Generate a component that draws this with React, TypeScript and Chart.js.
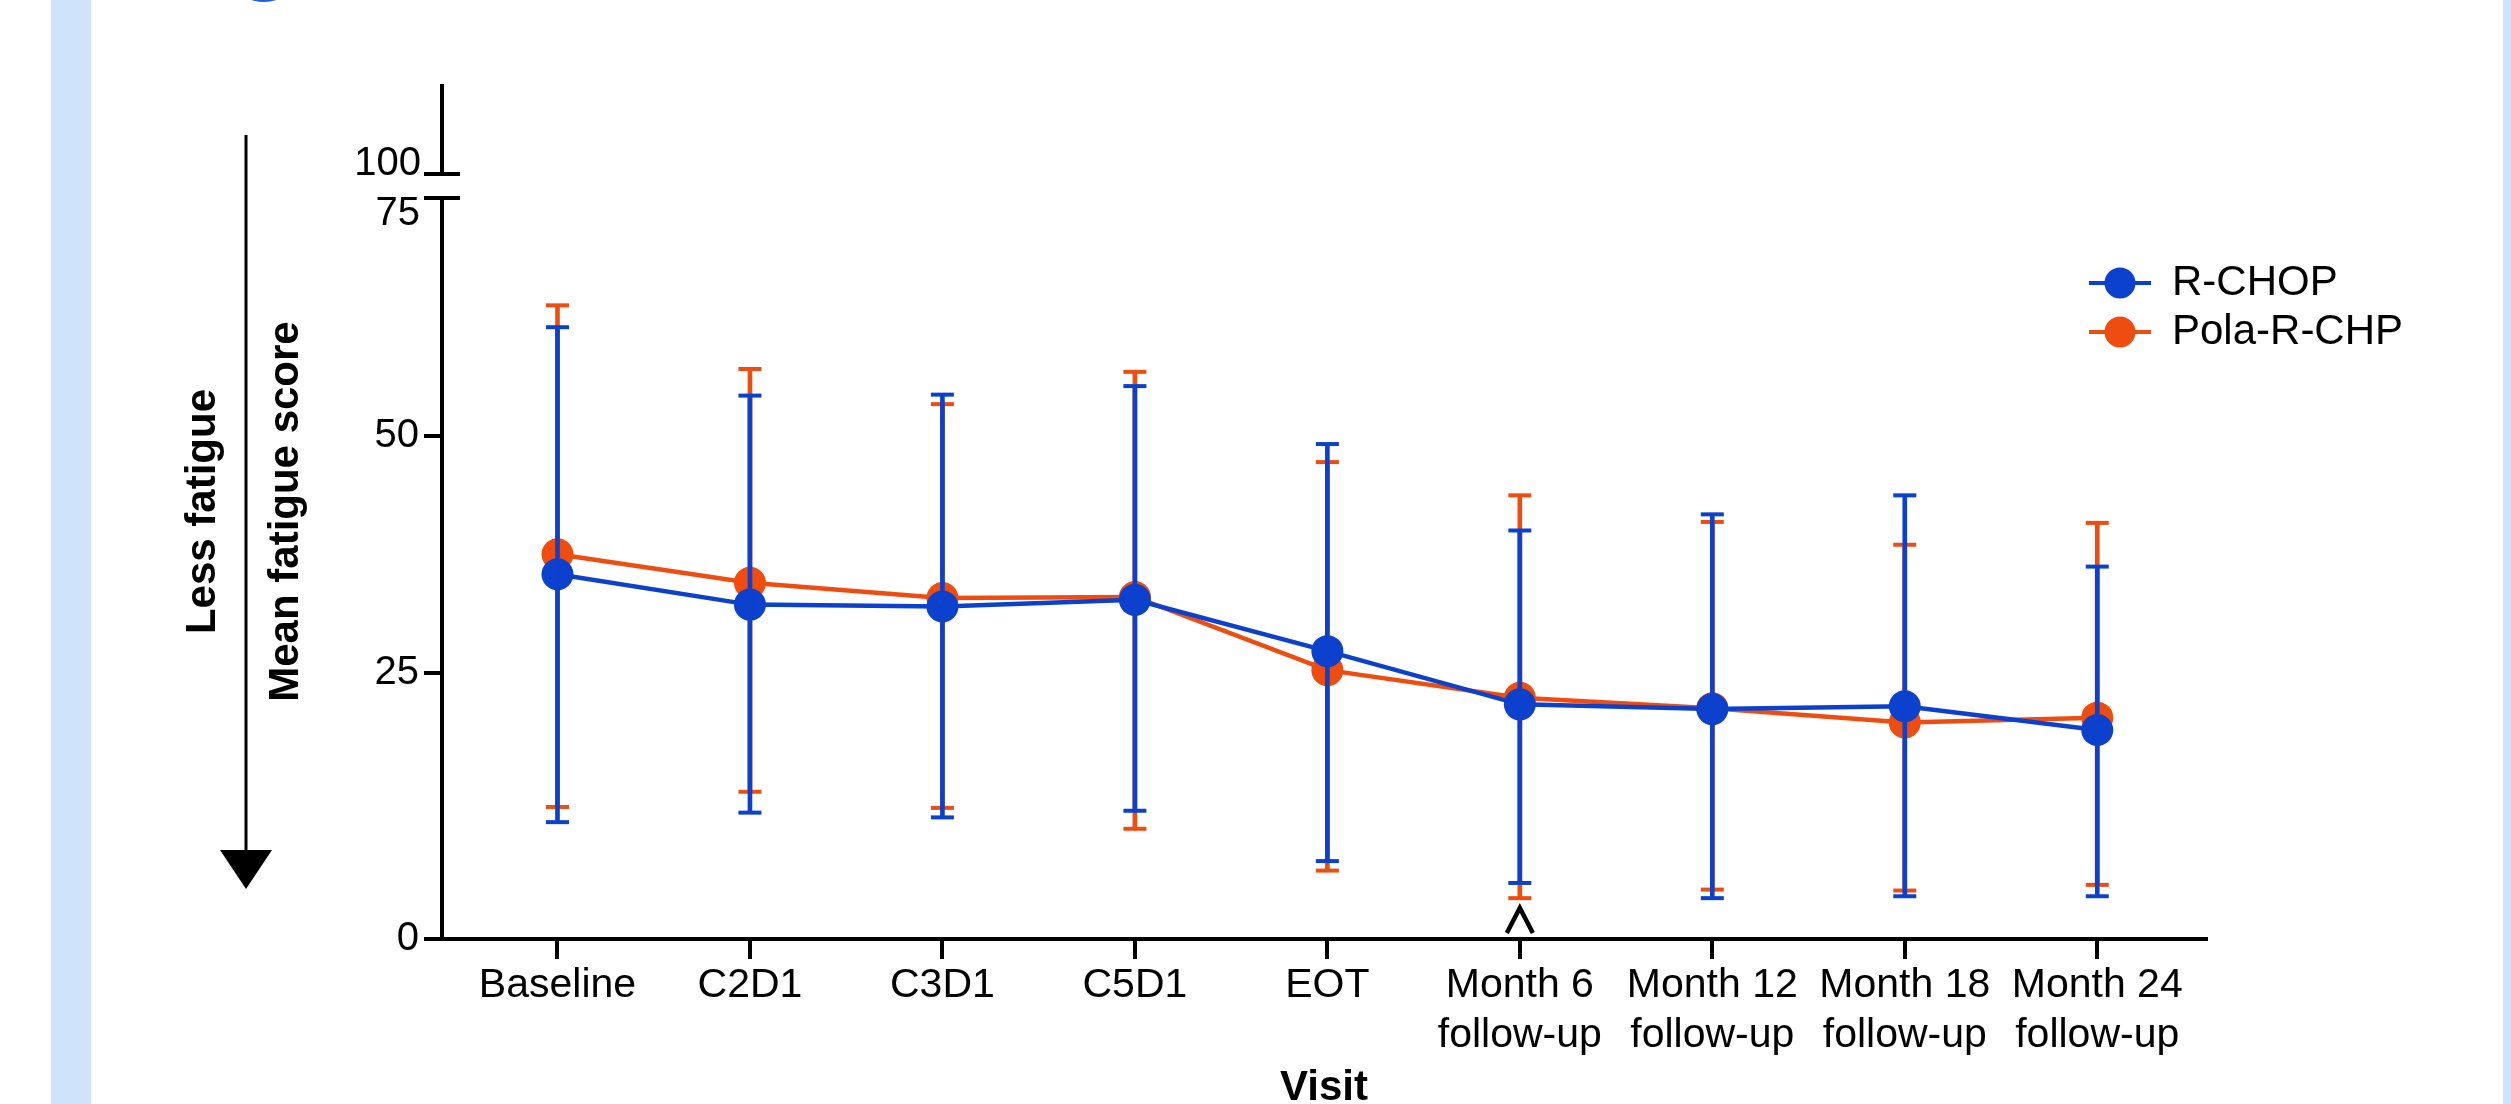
import React, { useEffect, useRef } from 'react';
import { Chart, registerables } from 'chart.js';

Chart.register(...registerables);

// ---------------- data ----------------
const VISIT_LABELS: (string | string[])[] = [
  'Baseline',
  'C2D1',
  'C3D1',
  'C5D1',
  'EOT',
  ['Month 6', 'follow-up'],
  ['Month 12', 'follow-up'],
  ['Month 18', 'follow-up'],
  ['Month 24', 'follow-up'],
];

const SERIES_NAMES = ['R-CHOP', 'Pola-R-CHP'];

const RCHOP_MEAN = [35.4, 32.2, 32.0, 32.7, 27.3, 21.7, 21.2, 21.5, 19.0];
const RCHOP_UPPER = [61.4, 54.2, 54.3, 55.2, 49.1, 40.0, 41.7, 43.7, 36.2];
const RCHOP_LOWER = [9.3, 10.3, 9.8, 10.5, 5.2, 2.9, 1.3, 1.5, 1.5];

const POLA_MEAN = [37.5, 34.5, 32.9, 33.0, 25.3, 22.4, 21.3, 19.8, 20.3];
const POLA_UPPER = [63.7, 57.0, 53.3, 56.7, 47.2, 43.7, 40.9, 38.5, 40.8];
const POLA_LOWER = [10.9, 12.5, 10.8, 8.6, 4.2, 1.3, 2.2, 2.1, 2.7];

// y axis: the baseline of the axis sits slightly below zero in the reference and is labelled 0
const Y_AXIS_FLOOR = -3;
const Y_AXIS_CEIL = 87;
const Y_TICK_VALUES = [Y_AXIS_FLOOR, 25, 50, 75];
const Y_TICK_LABELS = ['0', '25', '50', '75'];
const BREAK_LOW_LABEL = '75';
const BREAK_HIGH_LABEL = '100';
const BREAK_LOW_VALUE = 75;

const CARET_INDEX = 5; // "^" marker under Month 6 follow-up

const Y_TITLE = ['Less fatigue', 'Mean fatigue score'];
const X_TITLE = 'Visit';

// ---------------- style ----------------
const W = 2511;
const H = 1104;
const BLUE = '#0b41cd';
const ORANGE = '#ef4d0f';
const FONT = '"Liberation Sans", Arial, Helvetica, sans-serif';

function pts(values: number[]) {
  return values.map((y, i) => ({ x: i, y }));
}
function bars(lo: number[], hi: number[]) {
  return lo.map((l, i) => ({ x: i, y: [l, hi[i]] }));
}

function legendGlyph(color: string) {
  const c = document.createElement('canvas');
  c.width = 62;
  c.height = 34;
  const g = c.getContext('2d')!;
  g.strokeStyle = color;
  g.lineWidth = 4;
  g.beginPath();
  g.moveTo(0, 17);
  g.lineTo(62, 17);
  g.stroke();
  g.fillStyle = color;
  g.beginPath();
  g.arc(31, 17, 15.5, 0, Math.PI * 2);
  g.fill();
  return c;
}

const decorPlugin = {
  id: 'decor',
  beforeDraw(chart: any) {
    const lg = chart.legend;
    if (lg) {
      lg.left = 2082;
      lg.top = 255;
      lg.width = 420;
      lg.height = 160;
      lg.right = lg.left + lg.width;
      lg.bottom = lg.top + lg.height;
    }
  },
  afterDraw(chart: any) {
    const { ctx, chartArea } = chart;
    const ys = chart.scales.y;
    const xs = chart.scales.x;
    const ax = chartArea.left;
    const y75 = ys.getPixelForValue(BREAK_LOW_VALUE);
    const yTop = y75 - 24;
    ctx.save();
    ctx.strokeStyle = '#000';
    ctx.lineWidth = 4;
    ctx.lineCap = 'butt';
    ctx.beginPath();
    ctx.moveTo(ax, y75 - 2);
    ctx.lineTo(ax, chartArea.bottom + 2);
    ctx.moveTo(ax, chartArea.top);
    ctx.lineTo(ax, yTop + 2);
    ctx.moveTo(ax - 18, y75);
    ctx.lineTo(ax + 18, y75);
    ctx.moveTo(ax - 18, yTop);
    ctx.lineTo(ax + 18, yTop);
    ctx.stroke();

    ctx.fillStyle = '#000';
    ctx.font = `40px ${FONT}`;
    ctx.textAlign = 'right';
    ctx.textBaseline = 'alphabetic';
    ctx.fillText(BREAK_HIGH_LABEL, ax - 21, yTop + 1);
    ctx.fillText(BREAK_LOW_LABEL, ax - 22, y75 + 27);

    // caret under Month 6
    const cx = xs.getPixelForValue(CARET_INDEX);
    const cb = chartArea.bottom;
    ctx.lineWidth = 4.5;
    ctx.lineJoin = 'miter';
    ctx.beginPath();
    ctx.moveTo(cx - 13, cb - 6);
    ctx.lineTo(cx, cb - 31);
    ctx.lineTo(cx + 13, cb - 6);
    ctx.stroke();

    // "less fatigue" arrow
    ctx.lineWidth = 3;
    ctx.beginPath();
    ctx.moveTo(246, 135);
    ctx.lineTo(246, 852);
    ctx.stroke();
    ctx.beginPath();
    ctx.moveTo(220, 850);
    ctx.lineTo(272, 850);
    ctx.lineTo(246, 889);
    ctx.closePath();
    ctx.fill();
    ctx.restore();
  },
};

export default function App() {
  const ref = useRef<HTMLCanvasElement>(null);

  useEffect(() => {
    const canvas = ref.current;
    if (!canvas) return;
    const glyphs = [legendGlyph(BLUE), legendGlyph(ORANGE)];

    const chart = new Chart(canvas, {
      type: 'line',
      data: {
        datasets: [
          {
            type: 'bar',
            label: 'R-CHOP SD',
            data: bars(RCHOP_LOWER, RCHOP_UPPER) as any,
            backgroundColor: BLUE,
            borderWidth: 0,
            barThickness: 4,
            grouped: false,
            order: 1,
          } as any,
          {
            type: 'line',
            label: 'R-CHOP caps',
            data: [...pts(RCHOP_UPPER), ...pts(RCHOP_LOWER)],
            showLine: false,
            pointStyle: 'line',
            pointRadius: 11.5,
            pointBorderWidth: 4,
            pointBorderColor: BLUE,
            pointBackgroundColor: BLUE,
            order: 2,
          },
          {
            type: 'line',
            label: SERIES_NAMES[0],
            data: pts(RCHOP_MEAN),
            borderColor: BLUE,
            borderWidth: 4.5,
            backgroundColor: BLUE,
            pointRadius: 16,
            pointBorderWidth: 0,
            pointBackgroundColor: BLUE,
            tension: 0,
            order: 3,
          },
          {
            type: 'bar',
            label: 'Pola SD',
            data: bars(POLA_LOWER, POLA_UPPER) as any,
            backgroundColor: ORANGE,
            borderWidth: 0,
            barThickness: 4,
            grouped: false,
            order: 4,
          } as any,
          {
            type: 'line',
            label: 'Pola caps',
            data: [...pts(POLA_UPPER), ...pts(POLA_LOWER)],
            showLine: false,
            pointStyle: 'line',
            pointRadius: 11.5,
            pointBorderWidth: 4,
            pointBorderColor: ORANGE,
            pointBackgroundColor: ORANGE,
            order: 5,
          },
          {
            type: 'line',
            label: SERIES_NAMES[1],
            data: pts(POLA_MEAN),
            borderColor: ORANGE,
            borderWidth: 4.5,
            backgroundColor: ORANGE,
            pointRadius: 16,
            pointBorderWidth: 0,
            pointBackgroundColor: ORANGE,
            tension: 0,
            order: 6,
          },
        ],
      },
      options: {
        animation: false,
        responsive: false,
        devicePixelRatio: 1,
        events: [],
        layout: { padding: { left: 0, top: 84, right: 305, bottom: 0 } },
        plugins: {
          tooltip: { enabled: false },
          title: { display: false },
          legend: {
            display: true,
            position: 'chartArea' as any,
            align: 'start',
            labels: {
              usePointStyle: true,
              pointStyleWidth: 62,
              boxHeight: 42,
              padding: 7,
              color: '#000',
              font: { family: FONT, size: 42 },
              generateLabels: () =>
                SERIES_NAMES.map((name, i) => ({
                  text: name,
                  pointStyle: glyphs[i] as any,
                  fillStyle: i === 0 ? BLUE : ORANGE,
                  strokeStyle: i === 0 ? BLUE : ORANGE,
                  lineWidth: 0,
                  hidden: false,
                  datasetIndex: i === 0 ? 2 : 5,
                  fontColor: '#000',
                })),
            },
          },
        },
        scales: {
          x: {
            type: 'linear',
            min: -0.6,
            max: 8.565,
            offset: false,
            afterBuildTicks: (s: any) => {
              s.ticks = VISIT_LABELS.map((_, i) => ({ value: i }));
            },
            afterFit: (s: any) => {
              s.height = 165;
            },
            grid: {
              offset: false,
              drawOnChartArea: false,
              drawTicks: true,
              tickLength: 20,
              color: '#000',
              lineWidth: 4,
              tickWidth: 4,
            },
            border: { display: true, color: '#000', width: 4 },
            ticks: {
              autoSkip: false,
              maxRotation: 0,
              minRotation: 0,
              padding: 2,
              color: '#000',
              font: { family: FONT, size: 41, lineHeight: 1.22 },
              callback: (_v: any, i: number) => VISIT_LABELS[i],
            },
            title: {
              display: true,
              text: X_TITLE,
              color: '#000',
              font: { family: FONT, size: 42, weight: 'bold', lineHeight: 0.72 },
              padding: { top: 0, bottom: 0 },
            },
          },
          y: {
            type: 'linear',
            min: Y_AXIS_FLOOR,
            max: Y_AXIS_CEIL,
            afterBuildTicks: (s: any) => {
              s.ticks = Y_TICK_VALUES.map((v) => ({ value: v }));
            },
            afterFit: (s: any) => {
              s.width = 442;
            },
            grid: {
              drawOnChartArea: false,
              drawTicks: true,
              tickLength: 18,
              color: '#000',
              lineWidth: 4,
              tickWidth: 4,
            },
            border: { display: false },
            ticks: {
              padding: 5,
              color: '#000',
              font: { family: FONT, size: 40 },
              callback: (v: any) => {
                const idx = Y_TICK_VALUES.indexOf(v);
                if (idx < 0) return '';
                const lbl = Y_TICK_LABELS[idx];
                return lbl === BREAK_LOW_LABEL ? '' : lbl;
              },
            },
            title: {
              display: true,
              text: Y_TITLE,
              color: '#000',
              font: { family: FONT, size: 42, weight: 'bold', lineHeight: 1.976 },
              padding: { top: 161.5, bottom: 0 },
            },
          },
        },
      },
      plugins: [decorPlugin],
    } as any);

    return () => chart.destroy();
  }, []);

  return (
    <div
      style={{
        position: 'fixed',
        left: 0,
        top: 0,
        width: W,
        height: H,
        overflow: 'hidden',
        background: '#ffffff',
      }}
    >
      <div style={{ position: 'absolute', left: 51, top: 0, width: 40, height: H, background: '#cfe4fb' }} />
      <div style={{ position: 'absolute', left: 2503, top: 0, width: 8, height: H, background: '#cfe4fb' }} />
      <div
        style={{
          position: 'absolute',
          left: 224,
          top: -78,
          width: 80,
          height: 80,
          borderRadius: '50%',
          background: '#1f5ee6',
        }}
      />
      <canvas
        ref={ref}
        width={W}
        height={H}
        style={{ position: 'absolute', left: 0, top: 0, width: W, height: H, display: 'block' }}
      />
    </div>
  );
}
